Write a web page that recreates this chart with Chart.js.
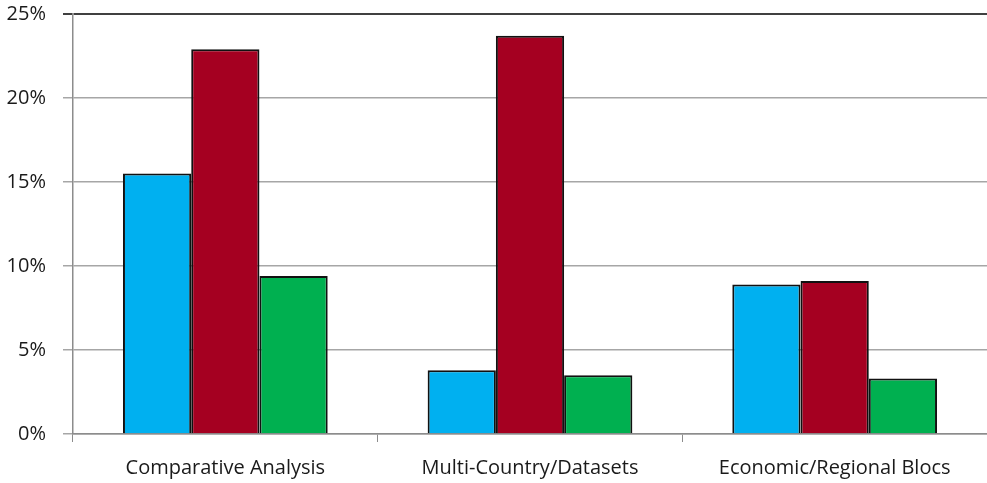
<!DOCTYPE html>
<html>
<head>
<meta charset="utf-8">
<script src="https://cdn.jsdelivr.net/npm/chart.js@4/dist/chart.umd.min.js"></script>
<style>
  html, body { margin: 0; padding: 0; background: #fff; }
  #wrap { width: 987px; height: 483px; }
</style>
</head>
<body>
<div id="wrap"><canvas id="barChart"></canvas></div>
<script>
// chart values
const categories = ['Comparative Analysis', 'Multi-Country/Datasets', 'Economic/Regional Blocs'];
const blueValues = [15.5, 3.8, 8.9];
const redValues = [22.9, 23.7, 9.1];
const greenValues = [9.4, 3.5, 3.3];
const yTicks = [0, 5, 10, 15, 20, 25];

const ctxBar = document.getElementById('barChart').getContext('2d');
new Chart(ctxBar, {
    type: 'bar',
    data: {
        labels: categories,
        datasets: [
            { data: blueValues, backgroundColor: '#00b0f0' },
            { data: redValues, backgroundColor: '#a50021' },
            { data: greenValues, backgroundColor: '#00b050' }
        ].map(d => Object.assign(d, {
            borderColor: '#111',
            borderWidth: 2,
            borderSkipped: 'bottom',
            categoryPercentage: 0.672,
            barPercentage: 1
        }))
    },
    options: {
        responsive: true,
        maintainAspectRatio: false,
        animation: false,
        layout: { padding: { top: 14, right: 0, left: 0, bottom: 0 } },
        plugins: { legend: { display: false }, tooltip: { enabled: false } },
        scales: {
            x: {
                grid: { offset: true, drawOnChartArea: false, color: '#8c8c8c', tickLength: 8 },
                border: { color: '#8c8c8c', width: 1.5 },
                ticks: { color: '#1a1a1a', font: { family: 'Open Sans', size: 20 }, padding: 14, maxRotation: 0 },
                afterFit: s => { s.height = 49; }
            },
            y: {
                min: 0,
                max: 25,
                afterBuildTicks: s => { s.ticks = yTicks.map(v => ({ value: v })); },
                grid: {
                    color: c => c.tick && c.tick.value === 25 ? '#404040' : '#a6a6a6',
                    lineWidth: c => c.tick && c.tick.value === 25 ? 2 : 1.5,
                    tickLength: 10
                },
                border: { color: '#8c8c8c', width: 1.5 },
                ticks: {
                    color: '#1a1a1a',
                    font: { family: 'Open Sans', size: 20 },
                    padding: 17,
                    callback: v => v + '%'
                },
                afterFit: s => { s.width = 73; s.paddingTop = 0; s.paddingBottom = 0; }
            }
        }
    }
});
</script>
</body>
</html>
